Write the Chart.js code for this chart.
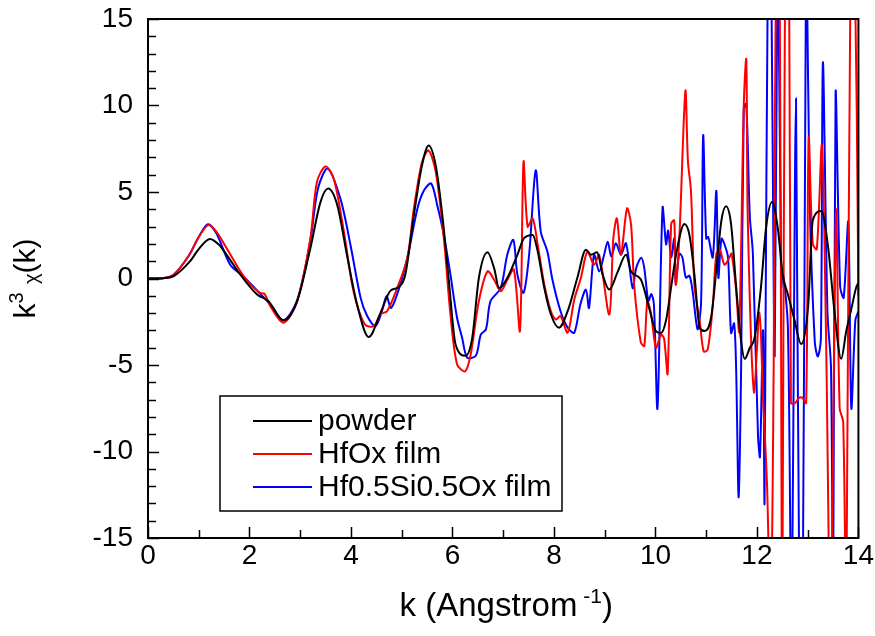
<!DOCTYPE html>
<html>
<head>
<meta charset="utf-8">
<script src="https://cdn.jsdelivr.net/npm/chart.js@4.4.1/dist/chart.umd.min.js"></script>
<style>
  html, body { margin: 0; padding: 0; background: #fff; }
  #wrap { width: 875px; height: 636px; }
</style>
</head>
<body>
<div id="wrap"><canvas id="exafs" width="875" height="636"></canvas></div>
<script>
// k values (Angstrom^-1) and k^3 chi(k), one pair of arrays per sample
const kPowder = [0, 0.3, 0.5, 0.83, 1.0, 1.22, 1.4, 1.55, 1.82, 2.15, 2.37, 2.67, 2.94, 3.2, 3.4, 3.55, 3.73, 3.92, 4.12, 4.35,
  4.58, 4.78, 4.94, 5.07, 5.24, 5.4, 5.53, 5.67, 5.8, 5.93, 6.06, 6.26, 6.39, 6.52, 6.69, 6.82, 6.92, 7.08, 7.28, 7.41,
  7.58, 7.68, 7.81, 7.94, 8.1, 8.27, 8.46, 8.63, 8.73, 8.85, 8.96, 9.09, 9.26, 9.42, 9.52, 9.71, 9.88, 10.01, 10.11, 10.21,
  10.31, 10.41, 10.57, 10.67, 10.77, 10.87, 10.97, 11.1, 11.23, 11.3, 11.39, 11.49, 11.59, 11.69, 11.76, 11.86, 11.95, 12.08, 12.18, 12.3,
  12.41, 12.51, 12.61, 12.74, 12.87, 13.01, 13.1, 13.27, 13.4, 13.53, 13.66, 13.76, 13.86, 13.96, 14.0];
const powder = [0, 0.02, 0.13, 1.0, 1.7, 2.29, 1.95, 1.37, 0.22, -0.93, -1.3, -2.42, -1.31, 1.75, 4.43, 5.2, 4.24, 1.37, -1.5, -3.38,
  -2.0, -0.7, -0.5, 0.22, 3.67, 6.54, 7.69, 6.54, 3.67, -0.16, -3.8, -4.47, -3.42, 0.03, 1.52, 0.6, -0.55, 0.03, 1.37, 2.33,
  2.52, 1.56, -0.55, -2.08, -2.84, -1.89, 0.03, 1.66, 1.37, 1.52, 0.22, -0.64, 0.41, 1.37, 0.4, -0.05, -1.76, -3.04, -3.15, -2.4,
  -0.48, 1.44, 3.15, 2.51, 0.16, -2.83, -3.04, -2.19, 1.44, 3.36, 4.18, 3.15, -0.48, -3.68, -4.64, -4.0, -3.47, -0.48, 2.94, 4.43,
  2.94, 0.16, -0.91, -2.4, -3.79, -1.55, 3.36, 3.9, 1.87, -1.97, -4.64, -3.04, -1.76, -0.48, -0.27];

const kHfOx = [0, 0.3, 0.5, 0.8, 1.0, 1.19, 1.35, 1.55, 1.82, 2.0, 2.21, 2.3, 2.41, 2.67, 2.94, 3.2, 3.33, 3.5, 3.66, 3.86,
  4.05, 4.27, 4.45, 4.58, 4.71, 4.91, 5.11, 5.24, 5.4, 5.53, 5.67, 5.83, 5.96, 6.09, 6.25, 6.36, 6.52, 6.69, 6.82, 6.95,
  7.08, 7.21, 7.33, 7.4, 7.48, 7.58, 7.68, 7.81, 7.94, 8.04, 8.13, 8.27, 8.4, 8.53, 8.66, 8.79, 8.89, 9.09, 9.17, 9.24,
  9.32, 9.44, 9.52, 9.58, 9.71, 9.78, 9.84, 9.91, 10.01, 10.11, 10.17, 10.24, 10.31, 10.37, 10.4, 10.47, 10.59, 10.64, 10.7, 10.77,
  10.87, 10.95, 11.03, 11.13, 11.2, 11.27, 11.36, 11.46, 11.5, 11.59, 11.65, 11.74, 11.79, 11.82, 11.94, 12.05, 12.12, 12.2, 12.27, 12.33,
  12.38, 12.44, 12.5, 12.56, 12.63, 12.67, 12.75, 12.83, 12.9, 12.97, 13.02, 13.1, 13.18, 13.28, 13.36, 13.45, 13.56, 13.63, 13.7, 13.76,
  13.85, 13.92, 14.0];
const hfOx = [0, 0.02, 0.2, 1.3, 2.4, 3.09, 2.7, 1.75, 0.41, -0.3, -0.83, -0.9, -1.6, -2.56, -1.31, 2.33, 5.59, 6.48, 5.78, 2.71,
  -0.74, -2.65, -2.75, -2.07, -1.89, -0.55, 1.18, 4.05, 6.74, 7.4, 6.16, 2.33, -2.08, -4.95, -5.37, -4.38, -1.31, 0.41, -0.07, -0.74,
  -0.07, 0.51, -3.03, 6.74, 3.0, 3.48, 1.94, -0.36, -1.89, -2.37, -2.17, -3.13, -1.22, 0.03, 1.56, 0.79, 1.37, -2.08, 2.33, 3.48,
  1.37, 4.05, 3.1, -0.36, -3.68, -3.9, -1.33, -1.97, -4.0, -3.25, -3.47, -5.5, 3.15, 3.36, -0.37, 2.3, 10.84, 6.78, 5.07, -0.48,
  -2.4, -4.22, -4.11, -1.55, 1.44, 1.66, 0.8, 1.23, 1.44, -0.69, -3.04, 9.98, 12.65, 3.36, -6.56, -1.97, -6.88, -12, -20, -5,
  20, 20, -20, 20, 20, -7.2, -7.2, -6.9, -6.9, -7.2, 8.1, 2.0, 1.7, 7.7, -3.0, -20, 3.9, -7.5, -8.3, -20,
  20, 20, -1];

const kHfSi = [0, 0.3, 0.5, 0.8, 1.0, 1.18, 1.35, 1.62, 1.88, 2.15, 2.44, 2.67, 2.94, 3.2, 3.35, 3.54, 3.79, 3.99, 4.19, 4.32,
  4.48, 4.61, 4.7, 4.79, 4.94, 5.11, 5.31, 5.44, 5.58, 5.7, 5.83, 5.96, 6.09, 6.19, 6.29, 6.46, 6.56, 6.66, 6.75, 6.95,
  7.08, 7.2, 7.28, 7.4, 7.51, 7.64, 7.74, 7.87, 7.97, 8.13, 8.27, 8.4, 8.52, 8.63, 8.69, 8.79, 8.89, 8.98, 9.06, 9.13,
  9.22, 9.32, 9.42, 9.55, 9.62, 9.72, 9.78, 9.86, 9.92, 9.97, 10.04, 10.14, 10.21, 10.25, 10.31, 10.37, 10.4, 10.47, 10.53, 10.6,
  10.67, 10.73, 10.83, 10.9, 10.94, 11.0, 11.04, 11.13, 11.2, 11.24, 11.3, 11.36, 11.43, 11.49, 11.55, 11.59, 11.64, 11.69, 11.74, 11.79,
  11.86, 11.92, 12.02, 12.06, 12.12, 12.15, 12.22, 12.27, 12.35, 12.41, 12.48, 12.51, 12.61, 12.68, 12.77, 12.84, 12.9, 12.97, 13.04, 13.14,
  13.2, 13.26, 13.3, 13.39, 13.46, 13.5, 13.55, 13.64, 13.71, 13.8, 13.86, 13.94, 14.0];
const hfSi = [0, 0.02, 0.2, 1.3, 2.4, 3.13, 2.6, 0.79, 0.12, -0.7, -1.6, -2.42, -1.25, 2.2, 5.2, 6.35, 4.63, 1.94, -1.12, -2.17,
  -2.75, -1.89, -1.02, -1.7, -0.64, 1.18, 4.05, 5.1, 5.49, 4.24, 2.52, 0.22, -2.27, -3.42, -4.57, -4.47, -3.23, -2.94, -1.31, -0.55,
  1.37, 2.23, 0.22, -0.83, 1.37, 6.25, 2.71, 1.56, -0.07, -1.89, -2.84, -3.13, -1.5, -0.64, -1.7, 1.37, 0.41, 1.27, 2.13, 1.27,
  2.04, 1.37, 2.04, -0.55, 0.6, 1.2, 0.6, -1.3, -0.9, -1.5, -7.5, 4.1, 1.98, 2.77, 1.23, 2.3, -0.27, 1.44, 1.23, 0.05,
  0.16, -0.69, -2.93, -1.33, 8.27, 2.3, 2.4, 1.23, 5.07, 0.05, 2.3, 1.98, 1.23, -3.15, -2.6, -5.2, -12.65, -4.75, 9.77, 10.1,
  3.58, 1.44, -9.0, -10.3, -3.0, -12.9, 20, 20, -4.5, 20, -0.48, 0.37, -2.83, -20, 10.4, -20, -20, 20, 4.43, -3.68,
  -4.5, -3.5, 12.5, -2.0, -5.2, -20, 10.7, -0.48, -1.1, 3.25, -7.5, -2.4, -1.9];

const FONT = '"Liberation Sans", Arial, sans-serif';
Chart.defaults.font.family = FONT;
Chart.defaults.color = '#000';

const toPoints = (ks, vs) => ks.map((k, i) => ({ x: k, y: vs[i] }));

// box around the plot plus inward tick marks (minor every 1 unit)
const framePlugin = {
    id: 'frame',
    afterDatasetsDraw(chart) {
        const { ctx, chartArea: a, scales: { x, y } } = chart;
        ctx.save();
        ctx.strokeStyle = '#000';
        ctx.lineWidth = 2;
        ctx.strokeRect(a.left, a.top, a.right - a.left, a.bottom - a.top);
        ctx.lineWidth = 1.5;
        ctx.beginPath();
        for (let v = -15; v <= 15; v++) {
            const py = Math.round(y.getPixelForValue(v)) + 0.5;
            const len = v % 5 === 0 ? 11 : 8;
            ctx.moveTo(a.left, py);
            ctx.lineTo(a.left + len, py);
        }
        for (let v = 0; v <= 14; v++) {
            const px = Math.round(x.getPixelForValue(v)) + 0.5;
            const len = v % 2 === 0 ? 11 : 8;
            ctx.moveTo(px, a.bottom);
            ctx.lineTo(px, a.bottom - len);
        }
        ctx.stroke();
        ctx.restore();
    }
};

// axis titles with real super/subscripts
const axisTitles = {
    id: 'axisTitles',
    afterDraw(chart) {
        const { ctx, chartArea: a } = chart;
        const runs = parts => parts.map(([t, f, dy]) => {
            ctx.font = f;
            return { t, f, dy, w: ctx.measureText(t).width };
        });
        const drawRuns = (list, cx, cy) => {
            const total = list.reduce((s, r) => s + r.w, 0);
            let px = cx - total / 2;
            ctx.textBaseline = 'middle';
            list.forEach(r => {
                ctx.font = r.f;
                ctx.fillText(r.t, px, cy + r.dy);
                px += r.w;
            });
        };
        ctx.save();
        ctx.fillStyle = '#000';
        const xBig = '33px ' + FONT, xSmall = '21px ' + FONT;
        drawRuns(runs([['k (Angstrom', xBig, 0], [' -1', xSmall, -10], [')', xBig, 0]]), (a.left + a.right) / 2 + 3, 607);
        const yBig = '30px ' + FONT, ySmall = '20px ' + FONT;
        ctx.translate(27, (a.top + a.bottom) / 2);
        ctx.rotate(-Math.PI / 2);
        drawRuns(runs([['k', yBig, 0], ['3', ySmall, -10], [' ', yBig, 0], ['χ', ySmall, 5], ['(k)', yBig, 0]]), 0, 0);
        ctx.restore();
    }
};

// boxed legend sitting inside the plot, lower left
const boxLegend = {
    id: 'boxLegend',
    afterDraw(chart) {
        const { ctx } = chart;
        const left = 220, top = 396, right = 562, bottom = 511;
        ctx.save();
        ctx.fillStyle = '#fff';
        ctx.fillRect(left, top, right - left, bottom - top);
        ctx.strokeStyle = '#000';
        ctx.lineWidth = 1.5;
        ctx.strokeRect(left, top, right - left, bottom - top);
        ctx.font = '30px ' + FONT;
        ctx.textBaseline = 'middle';
        chart.data.datasets.forEach((ds, i) => {
            const rowY = 421 + i * 33;
            ctx.strokeStyle = ds.borderColor;
            ctx.lineWidth = 2;
            ctx.beginPath();
            ctx.moveTo(253, rowY);
            ctx.lineTo(312, rowY);
            ctx.stroke();
            ctx.fillStyle = '#000';
            ctx.fillText(ds.label, 318, rowY + 1);
        });
        ctx.restore();
    }
};

new Chart(document.getElementById('exafs'), {
    type: 'line',
    data: {
        datasets: [
            { label: 'powder', data: toPoints(kPowder, powder), borderColor: '#000000', cubicInterpolationMode: 'monotone' },
            { label: 'HfOx film', data: toPoints(kHfOx, hfOx), borderColor: '#ff0000', tension: 0.3 },
            { label: 'Hf0.5Si0.5Ox film', data: toPoints(kHfSi, hfSi), borderColor: '#0000ff', tension: 0.3 }
        ]
    },
    options: {
        responsive: false,
        animation: false,
        layout: { padding: { left: 0, right: 10, top: 19, bottom: 0 } },
        elements: {
            point: { radius: 0 },
            line: { borderWidth: 2, fill: false }
        },
        plugins: {
            legend: { display: false },
            tooltip: { enabled: false }
        },
        scales: {
            x: {
                type: 'linear',
                min: 0,
                max: 14,
                grid: { display: false, drawTicks: false },
                border: { display: false },
                ticks: { stepSize: 2, padding: 1, font: { size: 28 } },
                afterFit: scale => { scale.height = 98; }
            },
            y: {
                min: -15,
                max: 15,
                grid: { display: false, drawTicks: false },
                border: { display: false },
                ticks: { stepSize: 5, padding: 15, font: { size: 28 } },
                afterFit: scale => {
                    scale.width = 148;
                    scale.paddingTop = 0;
                    scale.paddingBottom = 0;
                }
            }
        }
    },
    plugins: [framePlugin, boxLegend, axisTitles]
});
</script>
</body>
</html>
